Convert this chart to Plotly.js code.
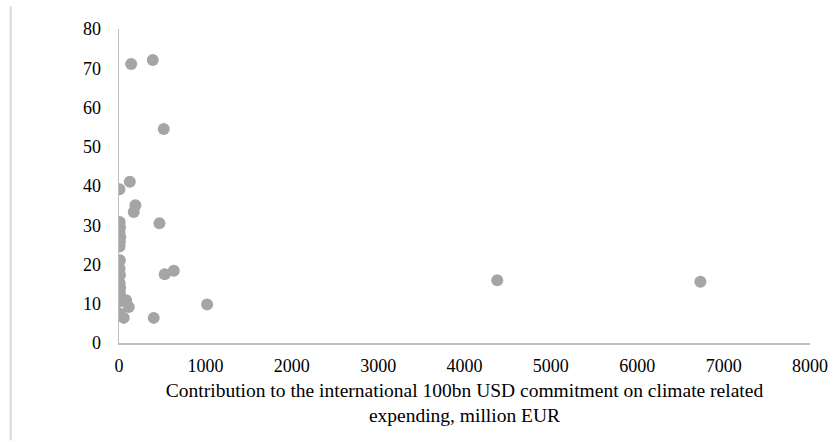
<!DOCTYPE html>
<html>
<head>
<meta charset="utf-8">
<script src="https://cdn.plot.ly/plotly-3.0.1.min.js"></script>
<style>
html,body{margin:0;padding:0;background:#fff;}
#chart{width:839px;height:446px;}
</style>
</head>
<body>
<div id="chart"></div>
<script>
// Contribution to 100bn USD commitment (million EUR)
var contribution = [5, 125, 190, 171, 468,
  8, 12, 5, 15, 10, 6,
  10, 6, 12, 8, 14, 10, 16, 5,
  83, 113, 5, 55, 402, 529, 634, 1020,
  141, 391, 518, 4379, 6731];
// Y-axis values
var yValue = [39.2, 41.1, 35.1, 33.4, 30.5,
  30.8, 29.5, 28.2, 27.0, 25.8, 24.6,
  21.1, 19.0, 17.3, 15.2, 14.0, 12.8, 11.4, 10.6,
  10.9, 9.2, 7.5, 6.4, 6.4, 17.5, 18.4, 9.8,
  71.1, 72.1, 54.5, 16.0, 15.6];
var xTicks = [0, 1000, 2000, 3000, 4000, 5000, 6000, 7000, 8000];
var yTicks = [0, 10, 20, 30, 40, 50, 60, 70, 80];

var font = {family: '"Liberation Serif", "Times New Roman", serif', color: '#000', size: 18};

var trace = {
  x: contribution, y: yValue, type: 'scatter', mode: 'markers',
  marker: {color: '#a5a5a5', size: 12, line: {width: 0}},
  hoverinfo: 'x+y'
};

var layout = {
  width: 839, height: 446,
  margin: {l: 118.5, r: 28.5, t: 29, b: 103.3, pad: 0},
  paper_bgcolor: '#fff', plot_bgcolor: '#fff',
  font: font,
  showlegend: false,
  xaxis: {
    range: [0, 8000], tickvals: xTicks, ticktext: xTicks.map(String),
    showgrid: false, zeroline: false, showline: true, linecolor: '#bfbfbf', linewidth: 1.5,
    ticks: '', ticklabelstandoff: 6, tickfont: font,
    title: {text: 'Contribution to the international 100bn USD commitment on climate related<br>expending, million EUR', font: {family: font.family, size: 19.5, color: '#000'}, standoff: 8}
  },
  yaxis: {
    range: [0, 80], tickvals: yTicks, ticktext: yTicks.map(String),
    showgrid: false, zeroline: false, showline: true, linecolor: '#bfbfbf', linewidth: 1.5,
    ticks: '', ticklabelstandoff: 13, tickfont: font
  },
  shapes: [{
    type: 'line', xref: 'paper', yref: 'paper',
    x0: (10 - 118.5) / 692, x1: (10 - 118.5) / 692,
    y0: (342.7 - 6) / 313.7, y1: (342.7 - 440) / 313.7,
    line: {color: '#d9d9d9', width: 2}
  }]
};

Plotly.newPlot('chart', [trace], layout, {staticPlot: true, displayModeBar: false});
</script>
</body>
</html>
